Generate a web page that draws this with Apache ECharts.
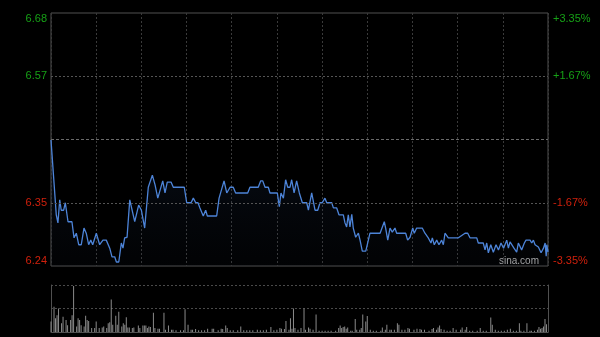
<!DOCTYPE html>
<html>
<head>
<meta charset="utf-8">
<script src="https://cdn.jsdelivr.net/npm/echarts@6/dist/echarts.min.js"></script>
<style>
html,body{margin:0;padding:0;background:#000;}
#c{width:600px;height:337px;}
</style>
</head>
<body>
<div id="c"></div>
<script>
// ---- data (minute of trading session, price) ----
var pricePoints = [
[0,6.459],[3.5,6.329],[4.6,6.315],[5.8,6.355],[6.8,6.337],[8.4,6.337],[9.5,6.35],[11.3,6.317],[13.9,6.317],[15.3,6.289],
[16.8,6.297],[18.4,6.277],[20.1,6.277],[21.9,6.306],[23.4,6.297],[25,6.277],[26.4,6.285],[27.7,6.277],[30.1,6.297],[32.3,6.277],
[34.5,6.285],[36.7,6.285],[39,6.271],[40.5,6.256],[42.3,6.256],[43.4,6.247],[45,6.247],[46.7,6.28],[47.8,6.271],[48.9,6.289],
[50.5,6.29],[52.3,6.355],[53.3,6.355],[55.6,6.317],[56.6,6.317],[58.2,6.346],[60,6.337],[62.2,6.306],[64.6,6.377],[67.3,6.398],
[69.1,6.381],[70.9,6.358],[71.7,6.358],[74.2,6.388],[75.7,6.367],[77.2,6.386],[79.7,6.386],[81.2,6.377],[88.5,6.377],[90.1,6.35],
[93,6.35],[94.5,6.358],[96.1,6.35],[97.6,6.35],[98.9,6.341],[101.1,6.327],[102.7,6.337],[103.8,6.327],[110,6.327],[111.6,6.358],
[112.9,6.358],[114.9,6.388],[116.7,6.367],[118.9,6.377],[121,6.377],[122.6,6.367],[130.6,6.367],[132.1,6.377],[137.6,6.377],[139.2,6.388],
[140.6,6.388],[142.1,6.377],[144.3,6.377],[145.4,6.367],[150.3,6.367],[151.6,6.343],[152.7,6.367],[154.3,6.358],[155.8,6.39],[157.2,6.377],
[158.7,6.377],[159.8,6.39],[161.4,6.367],[163.1,6.388],[164.9,6.367],[166.9,6.35],[169.8,6.35],[170.9,6.337],[173.1,6.367],[175.3,6.337],
[177.1,6.337],[178.6,6.35],[180.1,6.35],[181.9,6.358],[183.1,6.35],[186.4,6.35],[187.5,6.341],[189.7,6.341],[191.2,6.329],[194.1,6.329],
[195.2,6.315],[196.3,6.308],[197.4,6.329],[198.5,6.308],[199.7,6.33],[200.7,6.306],[202.3,6.29],[204.1,6.297],[205.2,6.285],[206.7,6.266],
[209,6.266],[211.8,6.297],[218.5,6.297],[219.6,6.299],[221.3,6.317],[222.2,6.306],[223.6,6.285],[225.1,6.306],[226.6,6.299],[228.4,6.306],
[229.5,6.297],[235.5,6.297],[236.8,6.285],[238.4,6.29],[240.2,6.306],[241.2,6.297],[242.8,6.306],[246.5,6.306],[248.3,6.297],[250.5,6.289],
[252.3,6.28],[253.2,6.289],[254.5,6.277],[256.1,6.285],[257.6,6.277],[259.4,6.285],[260.5,6.277],[261.6,6.297],[263.8,6.289],[270.5,6.289],
[274.9,6.297],[276.7,6.297],[278.2,6.289],[282.7,6.289],[283.7,6.28],[287,6.28],[288.2,6.268],[289.3,6.28],[290.4,6.263],[292,6.277],
[293.7,6.264],[295.5,6.277],[297.1,6.268],[298.8,6.28],[300.5,6.271],[302.6,6.285],[303.7,6.271],[304.8,6.282],[305.9,6.28],[307.4,6.271],
[309.2,6.264],[310.3,6.28],[312.5,6.268],[314.3,6.28],[315.4,6.285],[318.1,6.285],[319.2,6.28],[320.3,6.285],[321.4,6.277],[323.6,6.273],
[325.4,6.263],[327,6.271],[328.1,6.28],[328.8,6.257],[329.2,6.277],[330,6.264]
];
// ---- volume (minute, volume) ----
var volumePoints = [
[0,107],[2,257],[3,140],[4,170],[5,240],[7,90],[8,157],[10,123],[11,70],[13,123],[14,170],[15,470],[17,57],[18,140],[19,123],[20,70],
[22,57],[23,167],[24,123],[25,113],[27,40],[29,40],[30,107],[32,40],[34,47],[35,57],[37,40],[38,90],[39,100],[40,333],[41,73],[43,167],
[44,73],[45,207],[47,57],[48,90],[49,73],[50,150],[51,47],[52,47],[54,40],[55,47],[58,67],[59,40],[61,67],[62,67],[63,67],[64,40],
[65,57],[66,50],[68,197],[69,40],[71,33],[72,33],[75,197],[76,23],[78,67],[80,23],[81,23],[83,17],[86,17],[88,17],[89,233],[91,73],
[93,23],[94,23],[96,30],[98,17],[100,17],[102,17],[104,33],[107,33],[108,33],[111,17],[113,33],[114,30],[116,67],[117,40],[119,17],[121,17],
[124,17],[126,57],[128,17],[130,17],[132,17],[134,17],[137,23],[139,17],[141,17],[143,23],[146,50],[148,17],[150,23],[152,40],[153,33],[155,30],
[156,113],[158,23],[159,140],[160,33],[161,240],[162,40],[164,23],[166,40],[168,240],[169,23],[171,47],[172,33],[174,23],[176,180],[178,13],[180,13],
[182,13],[184,13],[186,13],[189,13],[191,40],[192,67],[193,40],[194,50],[195,57],[196,33],[197,47],[199,13],[200,13],[202,133],[203,23],[205,23],
[206,40],[207,180],[209,107],[210,163],[212,23],[214,13],[216,13],[219,13],[220,47],[222,23],[223,73],[225,23],[226,23],[228,23],[230,90],[231,73],
[233,23],[235,23],[237,40],[238,33],[241,23],[243,33],[245,30],[246,23],[248,23],[251,13],[253,30],[254,40],[256,23],[257,47],[258,67],[259,30],
[261,23],[263,13],[265,13],[267,40],[269,23],[272,23],[273,47],[275,23],[276,50],[278,13],[280,13],[283,13],[285,40],[287,13],[289,13],[292,147],
[293,73],[295,23],[297,13],[299,13],[301,13],[303,23],[305,33],[307,13],[309,13],[311,90],[312,13],[314,13],[316,90],[318,13],[319,13],[321,13],
[323,23],[324,50],[325,33],[326,40],[327,57],[328,133],[329,80]
];
var prevClose = 6.46;
var priceTicks = [6.24, 6.35, 6.57, 6.68];
var leftLabels = ['6.24', '6.35', '6.57', '6.68'];
var rightLabels = ['-3.35%', '-1.67%', '+1.67%', '+3.35%'];
var refLines = [6.35, 6.57];

var GREEN = '#16a016', RED = '#d0200c';
function tickIndex(v){ for (var i=0;i<priceTicks.length;i++){ if (Math.abs(v-priceTicks[i])<1e-6) return i; } return -1; }
function lblColor(v){ return v > prevClose ? GREEN : RED; }

var chart = echarts.init(document.getElementById('c'), null, {renderer:'canvas'});
var font = 'Liberation Sans, Arial, sans-serif';
var option = {
  backgroundColor: '#000',
  animation: false,
  grid: [
    {left:51, right:52, top:13, bottom:71, show:true, borderColor:'#505050', borderWidth:1, backgroundColor:'transparent'},
    {left:51, right:52, top:285, bottom:5, show:false}
  ],
  xAxis: [
    {type:'value', gridIndex:0, min:0, max:330, interval:30,
     axisLine:{show:false}, axisTick:{show:false}, axisLabel:{show:false},
     splitLine:{show:true, lineStyle:{color:'#3a3a3a', type:[2,2], width:1}}},
    {type:'value', gridIndex:1, min:0, max:330, interval:30,
     axisLine:{show:true, onZero:false, lineStyle:{color:'#505050'}}, axisTick:{show:false}, axisLabel:{show:false},
     splitLine:{show:false}}
  ],
  yAxis: [
    {type:'value', gridIndex:0, position:'left', min:6.24, max:6.68,
     axisLine:{show:false}, axisTick:{show:false}, splitLine:{show:false},
     axisLabel:{show:true, customValues: priceTicks, margin:4, fontSize:11, fontFamily:font,
       color: function(v){ return lblColor(v); },
       formatter: function(v){ var i = tickIndex(v); return i<0 ? '' : leftLabels[i]; },
       verticalAlignMaxLabel:'top', verticalAlignMinLabel:'bottom'}},
    {type:'value', gridIndex:0, position:'right', min:6.24, max:6.68,
     axisLine:{show:false}, axisTick:{show:false}, splitLine:{show:false},
     axisLabel:{show:true, customValues: priceTicks, margin:5, fontSize:11, fontFamily:font,
       color: function(v){ return lblColor(v); },
       formatter: function(v){ var i = tickIndex(v); return i<0 ? '' : rightLabels[i]; },
       verticalAlignMaxLabel:'top', verticalAlignMinLabel:'bottom'}},
    {type:'value', gridIndex:1, position:'left', min:0, max:480, interval:240,
     axisLine:{show:true, lineStyle:{color:'#505050'}}, axisTick:{show:false}, axisLabel:{show:false},
     splitLine:{show:true, lineStyle:{color:'#4a4a4a', type:[2,2]}}},
    {type:'value', gridIndex:1, position:'right', min:0, max:480, interval:240,
     axisLine:{show:true, lineStyle:{color:'#505050'}}, axisTick:{show:false}, axisLabel:{show:false},
     splitLine:{show:false}}
  ],
  series: [
    {type:'line', xAxisIndex:0, yAxisIndex:0, data: pricePoints, symbol:'none', silent:true,
     lineStyle:{color:'#4d84d8', width:1.3},
     areaStyle:{origin:'start', color: new echarts.graphic.LinearGradient(0,0,0,1,[
       {offset:0, color:'rgba(40,70,120,0.28)'}, {offset:1, color:'rgba(20,30,50,0.12)'}])},
     markLine:{silent:true, symbol:'none', label:{show:false}, animation:false,
       data: [
         {yAxis: refLines[0], lineStyle:{color:'#555', type:[2,2], width:1}},
         {yAxis: refLines[1], lineStyle:{color:'#555', type:[2,2], width:1}},
         {yAxis: prevClose, lineStyle:{color:'#6a6a6a', type:[3,2], width:1}}
       ]}},
    {type:'bar', xAxisIndex:1, yAxisIndex:2, data: volumePoints, barWidth:1, silent:true,
     itemStyle:{color:'#8a8a8a'}}
  ],
  graphic: [
    {type:'text', left:499, top:256, silent:true,
     style:{text:'sina.com', fill:'#b0b0b0', font:'10px '+font}}
  ]
};
chart.setOption(option);
</script>
</body>
</html>
